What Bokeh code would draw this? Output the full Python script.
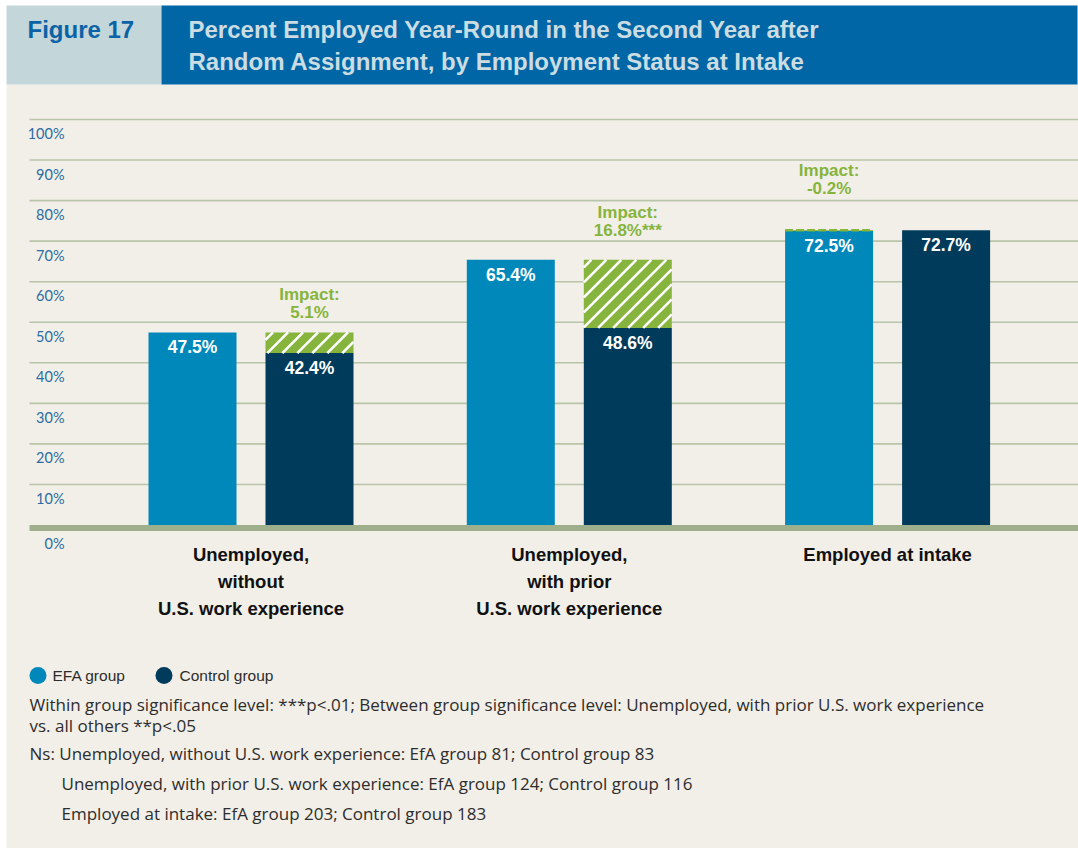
import numpy as np
from bokeh.plotting import figure
from bokeh.models import ColumnDataSource, Range1d, Label
from bokeh.core.properties import value
from bokeh.embed import file_html
from bokeh.resources import INLINE

# ---------------- data ----------------
figure_label = "Figure 17"
title_lines = ["Percent Employed Year-Round in the Second Year after",
               "Random Assignment, by Employment Status at Intake"]
categories = ["Unemployed,\nwithout\nU.S. work experience",
              "Unemployed,\nwith prior\nU.S. work experience",
              "Employed at intake"]
efa_values = [47.5, 65.4, 72.5]
control_values = [42.4, 48.6, 72.7]
impact_stars = ["", "***", ""]
y_ticks = [0, 10, 20, 30, 40, 50, 60, 70, 80, 90, 100]
y_tick_labels = ["0%", "10%", "20%", "30%", "40%", "50%", "60%", "70%", "80%", "90%", "100%"]
legend_labels = ["EFA group", "Control group"]
note_lines = [
    "Within group significance level: ***p<.01; Between group significance level: Unemployed, with prior U.S. work experience",
    "vs. all others **p<.05",
    "Ns: Unemployed, without U.S. work experience: EfA group 81; Control group 83",
    "Unemployed, with prior U.S. work experience: EfA group 124; Control group 116",
    "Employed at intake: EfA group 203; Control group 183",
]

# ---------------- style / layout ----------------
BG = "#F2EFE8"
EFA_C = "#0088BB"
CTRL_C = "#003B5C"
GREEN = "#86B43C"
GRID_C = "#B8C5A8"
BASE_C = "#9DAF8B"
TICK_C = "#2B6CA3"
TEXT_C = "#2D2D2D"
FONT = "Liberation Sans"

W, H = 1078, 848
OFF = 0
Y0C = 524.5 - OFF      # canvas y of 0%
PPP = 4.055            # pixels per percent


def X(px):
    return px - OFF


def Y(py):
    return (Y0C - (py - OFF)) / PPP


def DY(px):
    return px / PPP


p = figure(width=W, height=H, x_range=Range1d(0, W), y_range=Range1d(Y(OFF + H), Y(OFF)),
           output_backend="svg", toolbar_location=None, min_border=0,
           x_axis_type=None, y_axis_type=None,
           background_fill_color="white", border_fill_color="white", outline_line_color=None)

# page background and header
p.quad(left=X(6), right=X(W + 10), top=Y(84), bottom=Y(H + 10), fill_color=BG, line_color=None)
p.quad(left=X(6), right=X(161), top=Y(5), bottom=Y(84), fill_color="#C3D7DB", line_color=None)
p.quad(left=X(161), right=X(1077), top=Y(5), bottom=Y(84), fill_color="#0066A6", line_color=None)
p.add_layout(Label(x=X(27), y=Y(29), text=figure_label, text_font=FONT, text_font_style="bold",
                   text_font_size="24px", text_color="#0B63A5", text_baseline="middle"))
for i, t in enumerate(title_lines):
    p.add_layout(Label(x=X(188), y=Y(29 + 32 * i), text=t, text_font=FONT, text_font_style="bold",
                       text_font_size="24px", text_color="#CBDDE2", text_baseline="middle"))

# grid lines
gt = y_ticks[1:]
p.segment(x0=[X(29)] * len(gt), x1=[W] * len(gt), y0=gt, y1=gt, line_color=GRID_C, line_width=1.6)
# baseline
p.quad(left=X(29), right=W, top=y_ticks[0], bottom=Y(530.5), fill_color=BASE_C, line_color=None)

# y tick labels (placed under their grid lines, as in the original)
tick_y = [v - DY(14) if v > 0 else v - DY(18.5) for v in y_ticks]
p.text(x=[X(64)] * len(y_ticks), y=tick_y, text=y_tick_labels, text_align="right",
       text_baseline="middle", text_font=value("Lato"), text_font_size=value("14.5px"),
       text_color=TICK_C)

# bars
n = len(categories)
gc = X(250.5) + np.arange(n) * 318.3
bw = 88
efa = np.array(efa_values)
ctrl = np.array(control_values)
efa_x = gc - 58.5
ctrl_x = gc + 58.5
src = ColumnDataSource(dict(efa_x=efa_x, ctrl_x=ctrl_x, efa=efa, ctrl=ctrl,
                            efa_lbl=[f"{v:.1f}%" for v in efa],
                            ctrl_lbl=[f"{v:.1f}%" for v in ctrl],
                            efa_ly=efa - DY(15), ctrl_ly=ctrl - DY(15)))
p.vbar(x="efa_x", top="efa", bottom=0, width=bw, source=src, fill_color=EFA_C, line_color=None)
p.vbar(x="ctrl_x", top="ctrl", bottom=0, width=bw, source=src, fill_color=CTRL_C, line_color=None)

# impact segments (difference between the two bars), green with white 45-degree stripes
impact = efa - ctrl
imp_x = np.where(impact >= 0, ctrl_x, efa_x)
imp_lo = np.minimum(efa, ctrl)
imp_hi = np.maximum(efa, ctrl)
isrc = ColumnDataSource(dict(x=imp_x, lo=imp_lo, hi=imp_hi))
p.vbar(x="x", top="hi", bottom="lo", width=bw, source=isrc, fill_color=GREEN, line_color=None)

STEP = 15.0
sx0, sx1, sy0, sy1 = [], [], [], []
for xc, lo, hi in zip(imp_x, imp_lo, imp_hi):
    hp = (hi - lo) * PPP
    if hp < 3:
        continue
    left = xc - bw / 2
    c = -hp + STEP / 2
    while c < bw:
        ya = max(0.0, -c)
        yb = min(hp, bw - c)
        if yb > ya:
            sx0.append(left + ya + c)
            sx1.append(left + yb + c)
            sy0.append(lo + ya / PPP)
            sy1.append(lo + yb / PPP)
        c += STEP
p.segment(x0=sx0, x1=sx1, y0=sy0, y1=sy1, line_color="white", line_width=2.6)

small = np.abs(impact) < 1
p.segment(x0=imp_x[small] - bw / 2, x1=imp_x[small] + bw / 2, y0=imp_hi[small], y1=imp_hi[small],
          line_color=GREEN, line_width=2.5, line_dash="8 3")

p.text(x="efa_x", y="efa_ly", text="efa_lbl", source=src, text_align="center", text_baseline="middle",
       text_font=value(FONT), text_font_style="bold", text_font_size=value("17.5px"), text_color="white")
p.text(x="ctrl_x", y="ctrl_ly", text="ctrl_lbl", source=src, text_align="center", text_baseline="middle",
       text_font=value(FONT), text_font_style="bold", text_font_size=value("17.5px"), text_color="white")

# impact labels
gap_px = [20, 29, 42]
imp_val_y = imp_hi + DY(np.array(gap_px))
imp_head_y = imp_val_y + DY(18)
imp_txt = [f"{v:.1f}%{s}" for v, s in zip(impact, impact_stars)]
for ys, txt in ((imp_head_y, ["Impact:"] * n), (imp_val_y, imp_txt)):
    p.text(x=imp_x, y=ys, text=txt, text_align="center", text_baseline="middle",
           text_font=value(FONT), text_font_style="bold", text_font_size=value("17px"),
           text_color=GREEN)

# category labels
cx, cy, ct = [], [], []
for i, c in enumerate(categories):
    for j, line in enumerate(c.split("\n")):
        cx.append(gc[i])
        cy.append(Y(554 + 27 * j))
        ct.append(line)
p.text(x=cx, y=cy, text=ct, text_align="center", text_baseline="middle",
       text_font=value(FONT), text_font_style="bold", text_font_size=value("18.5px"),
       text_color="#111111")

# legend
p.scatter(x=[X(37.5), X(163.5)], y=[Y(675)] * 2, size=17, marker="circle",
          fill_color=[EFA_C, CTRL_C], line_color=None)
p.text(x=[X(52), X(179)], y=[Y(675)] * 2, text=legend_labels, text_baseline="middle",
       text_font=value(FONT), text_font_size=value("15.5px"), text_color=TEXT_C)

# notes
note_x = [X(29), X(29), X(29), X(61), X(61)]
note_y = [Y(704), Y(725), Y(753), Y(783), Y(813)]
p.text(x=note_x, y=note_y, text=note_lines, text_baseline="middle",
       text_font=value("Open Sans"), text_font_size=value("17px"), text_color=TEXT_C)

open("out.html", "w").write(file_html(p, INLINE))
